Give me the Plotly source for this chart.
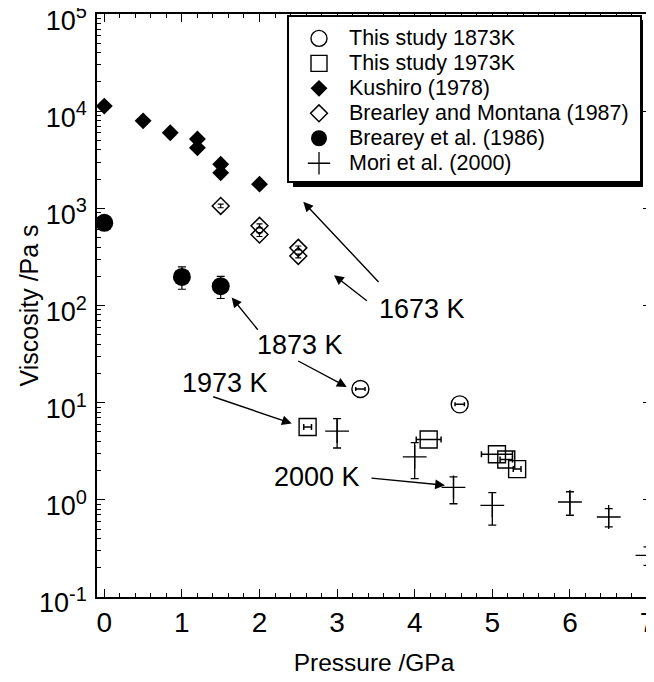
import plotly.graph_objects as go

# ---------------- data ----------------
ts1873_p = [3.30, 4.58]
ts1873_v = [13.8, 9.6]
ts1873_xerr = [0.06, 0.06]

ts1973_p = [2.62, 4.18, 5.06, 5.18, 5.32]
ts1973_v = [5.62, 4.17, 2.94, 2.60, 2.07]
ts1973_xerr = [0.05, 0.16, 0.20, 0.08, 0.05]

kush_p = [0.0, 0.5, 0.85, 1.2, 1.2, 1.5, 1.5, 2.0]
kush_v = [11300, 7960, 6000, 5170, 4200, 2850, 2320, 1775]

bm_p = [1.5, 2.0, 2.0, 2.5, 2.5]
bm_v = [1060, 661, 538, 392, 324]
bm_err = [45, 30, 25, 18, 15]

b86_p = [0.0, 1.0, 1.5]
b86_v = [710, 197, 158]
b86_up = [0, 53, 41]
b86_dn = [0, 50, 40]

mori_p = [3.0, 4.0, 4.5, 5.0, 6.0, 6.5, 7.0]
mori_v = [5.1, 2.76, 1.34, 0.877, 0.949, 0.665, 0.268]
mori_up = [1.76, 1.12, 0.38, 0.31, 0.26, 0.145, 0.059]
mori_dn = [1.69, 1.11, 0.43, 0.33, 0.256, 0.14, 0.057]

series_names = ["This study 1873K", "This study 1973K", "Kushiro (1978)",
                "Brearley and Montana (1987)\u00a0", "Brearey et al. (1986)", "Mori et al. (2000)"]

ytick_vals = [0.1, 1, 10, 100, 1000, 10000, 100000]
ytick_exp = ["-1", "0", "1", "2", "3", "4", "5"]
ytick_text = ['10<sup><span style="font-size:20px">%s</span></sup>' % e for e in ytick_exp]

# label texts and positions (x in GPa, y in log10 units)
labels = [("1673 K", 4.094, 1.964), ("1873 K", 2.522, 1.594),
          ("1973 K", 1.556, 1.203), ("2000 K", 2.741, 0.235)]
# arrows: head (x, log10 y), tail offset in px
arrows = [(2.564, 3.067, 76.7, 81.6), (2.96, 2.312, 34.3, 26.7),
          (1.642, 2.082, 27.3, 33.7), (3.124, 1.162, -50, -26.7),
          (2.415, 0.785, -80, -27.3), (4.39, 0.149, -75, -7.3)]

FONT = "Liberation Sans, Arial, sans-serif"
LEG_TXT = 21.5


def leg(name):
    return '<span style="font-size:%spx">%s</span>' % (LEG_TXT, name)


fig = go.Figure()

fig.add_trace(go.Scatter(
    x=ts1873_p, y=ts1873_v, mode="markers", name=leg(series_names[0]),
    marker=dict(symbol="circle-open", size=17, color="black", line=dict(width=1.4)),
    error_x=dict(type="data", array=ts1873_xerr, color="black", thickness=1.5, width=2),
    cliponaxis=False))
fig.add_trace(go.Scatter(
    x=ts1973_p, y=ts1973_v, mode="markers", name=leg(series_names[1]),
    marker=dict(symbol="square-open", size=17, color="black", line=dict(width=1.4)),
    error_x=dict(type="data", array=ts1973_xerr, color="black", thickness=1.5, width=3),
    cliponaxis=False))
fig.add_trace(go.Scatter(
    x=kush_p, y=kush_v, mode="markers", name=leg(series_names[2]),
    marker=dict(symbol="diamond", size=13, color="black"),
    cliponaxis=False))
fig.add_trace(go.Scatter(
    x=bm_p, y=bm_v, mode="markers", name=leg(series_names[3]),
    marker=dict(symbol="diamond-open", size=13, color="black", line=dict(width=1.5)),
    error_y=dict(type="data", array=bm_err, color="black", thickness=1.2, width=3),
    cliponaxis=False))
fig.add_trace(go.Scatter(
    x=b86_p, y=b86_v, mode="markers", name=leg(series_names[4]),
    marker=dict(symbol="circle", size=18, color="black"),
    error_y=dict(type="data", symmetric=False, array=b86_up, arrayminus=b86_dn,
                 color="black", thickness=1.2, width=4),
    cliponaxis=False))
fig.add_trace(go.Scatter(
    x=mori_p, y=mori_v, mode="markers", name=leg(series_names[5]),
    marker=dict(symbol="cross-thin", size=17, color="black", line=dict(width=1.3, color="black")),
    error_y=dict(type="data", symmetric=False, array=mori_up, arrayminus=mori_dn,
                 color="black", thickness=1.3, width=4),
    cliponaxis=False))

# figure is drawn inside the page body (8px offset), so figure coords = page - 8
W, H = 646, 674
L, R, T, B = 89, 643, 6, 589


def px2paper_x(px):
    return (px - L) / (R - L)


def px2paper_y(py):
    return (B - py) / (B - T)


annotations = []
for t, x, y in labels:
    annotations.append(dict(x=x, y=y, xref="x", yref="y", text=t, showarrow=False,
                            font=dict(family=FONT, size=27, color="black")))
for x, y, ax, ay in arrows:
    annotations.append(dict(x=x, y=y, xref="x", yref="y", text="", showarrow=True,
                            ax=ax, ay=ay, arrowhead=2, arrowsize=1.4, arrowwidth=1.4,
                            arrowcolor="black", standoff=0, startstandoff=0))
# y-axis title
annotations.append(dict(x=px2paper_x(20), y=0.5, xref="paper", yref="paper",
                        text="Viscosity /Pa s", textangle=-90, showarrow=False,
                        xanchor="center", yanchor="middle",
                        font=dict(family=FONT, size=25, color="black")))

fig.add_shape(type="rect", xref="paper", yref="paper",
              x0=px2paper_x(285), x1=px2paper_x(635),
              y0=px2paper_y(179), y1=px2paper_y(12),
              fillcolor="black", line=dict(width=0), layer="above")

fig.update_layout(
    width=W, height=H,
    margin=dict(l=L, r=W - R, t=T, b=H - B, autoexpand=False),
    paper_bgcolor="white", plot_bgcolor="white",
    font=dict(family=FONT, color="black"),
    showlegend=True,
    legend=dict(x=px2paper_x(279), y=px2paper_y(7), xanchor="left", yanchor="top",
                bgcolor="white", bordercolor="black", borderwidth=2,
                font=dict(family=FONT, size=16.9, color="black"),
                title=dict(text="\u00a0", font=dict(family=FONT, size=3)),
                itemwidth=50, tracegroupgap=0, itemsizing="trace"),
    annotations=annotations,
    xaxis=dict(range=[-0.094, 7.045], tickmode="linear", tick0=0, dtick=1,
               automargin=False, ticklabeloverflow="allow",
               ticks="inside", ticklen=8, tickwidth=1, tickcolor="black",
               minor=dict(dtick=0.2, ticks="inside", ticklen=4, tickwidth=1, tickcolor="black"),
               showline=True, linecolor="black", linewidth=1.5, mirror="ticks",
               showgrid=False, zeroline=False,
               tickfont=dict(family=FONT, size=28),
               title=dict(text="Pressure /GPa", font=dict(family=FONT, size=24.5), standoff=17)),
    yaxis=dict(type="log", range=[-1.001, 5.001], tickmode="array", tickvals=ytick_vals,
               ticktext=ytick_text, ticklabeloverflow="allow", ticklabelshift=6,
               ticklabelstandoff=3, automargin=False,
               ticks="inside", ticklen=8, tickwidth=1, tickcolor="black",
               minor=dict(dtick="D1", ticks="inside", ticklen=4, tickwidth=1, tickcolor="black"),
               showline=True, linecolor="black", linewidth=1.5, mirror="ticks",
               showgrid=False, zeroline=False,
               tickfont=dict(family=FONT, size=27)),
)

fig.write_html("out.html")
